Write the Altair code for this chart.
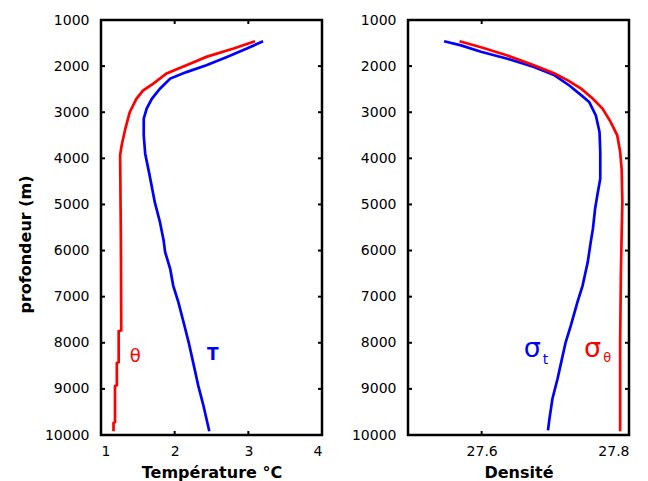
import altair as alt
import pandas as pd

# ---- data ----
depth_T = [1460, 1620, 1800, 1980, 2130, 2270, 2490, 2710, 2920, 3140, 3500, 3900, 4370,
           4950, 5380, 5780, 6030, 6400, 6760, 7120, 7550, 7990, 8420, 8930, 9360, 9920]
temp_T = [3.20, 2.98, 2.71, 2.43, 2.16, 1.94, 1.80, 1.69, 1.62, 1.58, 1.58, 1.60, 1.66,
          1.73, 1.80, 1.85, 1.87, 1.94, 1.98, 2.05, 2.12, 2.19, 2.25, 2.32, 2.39, 2.47]

depth_theta = [1460, 1620, 1800, 1980, 2160, 2380, 2530, 2710, 3000, 3360, 3720, 3930,
               5800, 7730, 7750, 8420, 8440, 8920, 8940, 9720, 9740, 9920]
temp_theta = [3.09, 2.80, 2.43, 2.16, 1.89, 1.71, 1.57, 1.48, 1.39, 1.33, 1.28, 1.26,
              1.27, 1.275, 1.24, 1.24, 1.215, 1.215, 1.19, 1.19, 1.17, 1.17]

depth_sth = [1460, 1590, 1770, 1980, 2160, 2310, 2490, 2710, 2920, 3210, 3500, 3860,
             4230, 4950, 5660, 6500, 8000, 9920]
sig_theta = [27.570, 27.599, 27.635, 27.671, 27.699, 27.717, 27.735, 27.751, 27.764,
             27.775, 27.784, 27.788, 27.790, 27.791, 27.790, 27.789, 27.788, 27.788]

depth_stt = [1460, 1550, 1690, 1840, 2020, 2200, 2420, 2630, 2780, 3070, 3430, 3860, 4440,
             4800, 5090, 5530, 5820, 6250, 6760, 7120, 7630, 7990, 8420, 8780, 9220, 9650, 9900]
sig_t = [27.549, 27.572, 27.599, 27.635, 27.671, 27.699, 27.719, 27.735, 27.746, 27.755,
         27.760, 27.761, 27.761, 27.757, 27.754, 27.751, 27.748, 27.744, 27.737, 27.730,
         27.721, 27.714, 27.708, 27.703, 27.696, 27.692, 27.690]

depth_ticks = [1000, 2000, 3000, 4000, 5000, 6000, 7000, 8000, 9000, 10000]
temp_ticks = [1, 2, 3, 4]
dens_ticks = [27.6, 27.8]

W, H = 221, 415
FONT = "DejaVu Sans"
RED, BLUE = "#ff0000", "#0000ff"

yscale = alt.Scale(domain=[1000, 10000], reverse=True, nice=False, zero=False)
xs1 = alt.Scale(domain=[1, 4], nice=False, zero=False)
xs2 = alt.Scale(domain=[27.5, 27.8], nice=False, zero=False)


def profile(xs, ds, color, xscale, xaxis, yaxis):
    df = pd.DataFrame({"x": xs, "d": ds})
    return alt.Chart(df).mark_line(color=color, strokeWidth=2.7).encode(
        x=alt.X("x:Q", scale=xscale, axis=xaxis),
        y=alt.Y("d:Q", scale=yscale, axis=yaxis),
        order=alt.Order("d:Q"),
    )


def inner_ticks(xvals, xscale):
    dy = pd.DataFrame({"d": depth_ticks})
    dx = pd.DataFrame({"x": xvals})
    l = alt.Chart(dy).mark_rule(color="black", strokeWidth=2).encode(
        y=alt.Y("d:Q", scale=yscale), x=alt.value(0), x2=alt.value(4))
    r = alt.Chart(dy).mark_rule(color="black", strokeWidth=2).encode(
        y=alt.Y("d:Q", scale=yscale), x=alt.value(W - 4), x2=alt.value(W))
    t = alt.Chart(dx).mark_rule(color="black", strokeWidth=2).encode(
        x=alt.X("x:Q", scale=xscale), y=alt.value(0), y2=alt.value(4))
    b = alt.Chart(dx).mark_rule(color="black", strokeWidth=2).encode(
        x=alt.X("x:Q", scale=xscale), y=alt.value(H - 4), y2=alt.value(H))
    return [l, r, t, b]


def label(x, d, text, color, size, xscale, weight="normal"):
    df = pd.DataFrame({"x": [x], "d": [d], "t": [text]})
    return alt.Chart(df).mark_text(align="left", baseline="alphabetic", color=color,
                                   fontSize=size, font=FONT, fontWeight=weight).encode(
        x=alt.X("x:Q", scale=xscale), y=alt.Y("d:Q", scale=yscale), text="t:N")


yax_left = alt.Axis(values=depth_ticks, format="d", title="profondeur (m)",
                    titleFontSize=16, titleY=224)
yax_right = alt.Axis(values=depth_ticks, format="d", title=None)
xax_left = alt.Axis(values=temp_ticks, format="d", title="Température °C")
xax_right = alt.Axis(values=dens_ticks, format=".1f", title="Densité")

# ---- left panel ----
left = alt.layer(
    profile(temp_T, depth_T, BLUE, xs1, xax_left, yax_left),
    profile(temp_theta, depth_theta, RED, xs1, xax_left, yax_left),
    *inner_ticks([2, 3], xs1),
    label(1.39, 8420, "θ", RED, 18, xs1),
    label(2.44, 8380, "T", BLUE, 17, xs1, "bold"),
).properties(width=W, height=H)

# ---- right panel ----
right = alt.layer(
    profile(sig_t, depth_stt, BLUE, xs2, xax_right, yax_right),
    profile(sig_theta, depth_sth, RED, xs2, xax_right, yax_right),
    *inner_ticks([27.6], xs2),
    label(27.657, 8310, "σ", BLUE, 27, xs2),
    label(27.683, 8460, "t", BLUE, 14, xs2),
    label(27.739, 8310, "σ", RED, 27, xs2),
    label(27.765, 8420, "θ", RED, 13, xs2),
).properties(width=W, height=H)

chart = alt.hconcat(left, right, spacing=25).properties(
    padding={"left": 8, "top": 3, "right": 5, "bottom": 5},
    background="white",
).configure_view(
    stroke="black", strokeWidth=2.5
).configure_axis(
    ticks=False, domain=False, grid=False,
    labelFontSize=14, labelFont=FONT, labelColor="black", labelPadding=12,
    titleFont=FONT, titleFontSize=16, titleFontWeight="bold", titleColor="black",
).configure_axisX(
    labelPadding=9, titlePadding=6,
).configure_axisY(
    titlePadding=11,
)

chart.save("out.html", embed_options={"renderer": "svg", "actions": False})
